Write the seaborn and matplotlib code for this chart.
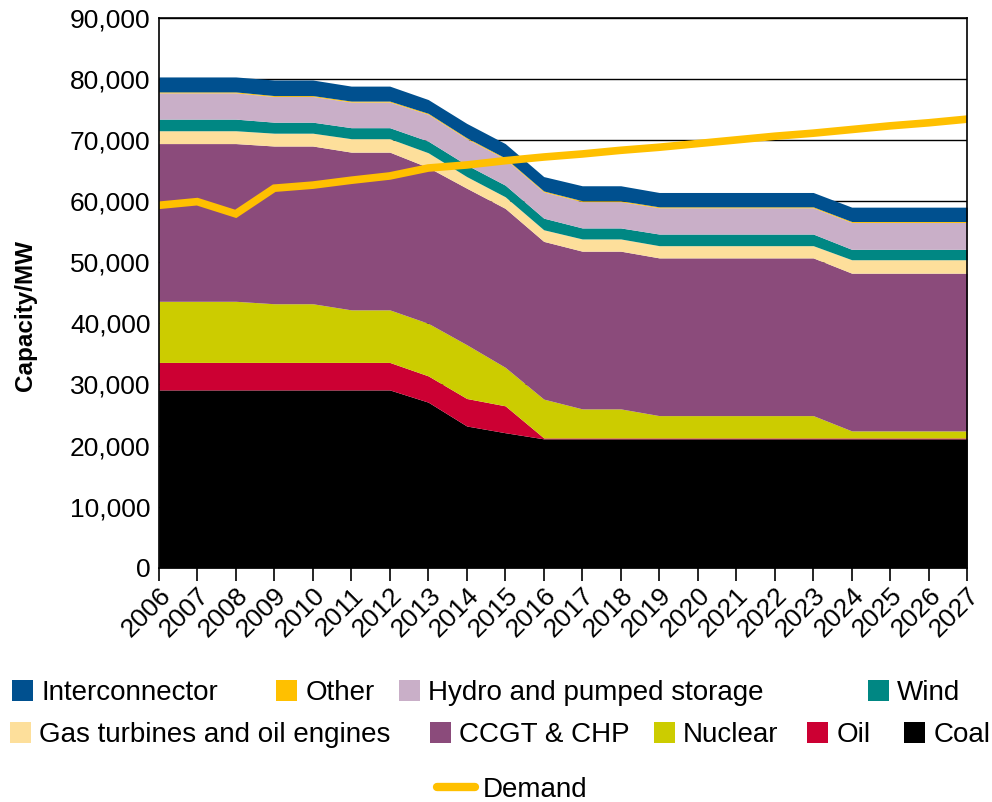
import matplotlib
matplotlib.use("Agg")
import matplotlib.pyplot as plt
import matplotlib.ticker as mticker
from matplotlib.patches import Patch
from matplotlib.lines import Line2D
import numpy as np
import pandas as pd
import seaborn as sns

# Data (MW)
years = list(range(2006, 2028))

coal = [29100, 29100, 29100, 29100, 29100, 29100, 29100, 27100, 23200, 22100, 21100,
        21100, 21100, 21100, 21100, 21100, 21100, 21100, 21100, 21100, 21100, 21100]
oil = [4500, 4500, 4500, 4500, 4500, 4500, 4500, 4300, 4500, 4400, 150,
       150, 150, 150, 150, 150, 150, 150, 150, 150, 150, 150]
nuclear = [10000, 10000, 10000, 9600, 9600, 8600, 8600, 8600, 8800, 6300, 6350,
           4750, 4750, 3650, 3650, 3650, 3650, 3650, 1150, 1150, 1150, 1150]
ccgt_chp = [25800, 25800, 25800, 25800, 25800, 25800, 25800, 25500, 25600, 26000, 25800,
            25800, 25800, 25800, 25800, 25800, 25800, 25800, 25800, 25800, 25800, 25800]
gas_turbines = [2100, 2100, 2100, 2100, 2100, 2200, 2200, 2400, 1900, 1900, 1900,
                2000, 2000, 2000, 2000, 2000, 2000, 2000, 2200, 2200, 2200, 2200]
wind = [1900, 1900, 1900, 1800, 1800, 1800, 1800, 1900, 1900, 1900, 1900,
        1800, 1800, 1900, 1900, 1900, 1900, 1900, 1700, 1700, 1700, 1700]
hydro = [4300, 4300, 4300, 4200, 4200, 4200, 4200, 4400, 4300, 4300, 4300,
         4300, 4300, 4300, 4300, 4300, 4300, 4300, 4400, 4400, 4400, 4400]
other = [150, 150, 150, 150, 150, 150, 150, 150, 150, 150, 150,
         150, 150, 150, 150, 150, 150, 150, 150, 150, 150, 150]
interconnector = [2450, 2450, 2450, 2550, 2550, 2450, 2450, 2250, 2350, 2350, 2350,
                  2450, 2450, 2350, 2350, 2350, 2350, 2350, 2350, 2350, 2350, 2350]
demand = [59300, 59900, 57900, 62100, 62600, 63400, 64100, 65400, 65900, 66600, 67200,
          67700, 68300, 68800, 69400, 70000, 70600, 71100, 71700, 72300, 72800, 73400]

series_labels = ["Coal", "Oil", "Nuclear", "CCGT & CHP", "Gas turbines and oil engines",
                 "Wind", "Hydro and pumped storage", "Other", "Interconnector"]
series_colors = ["#000000", "#CC0033", "#CCCC00", "#8B4B7B", "#FDDF9B",
                 "#008783", "#C9AFC8", "#FFC000", "#00508F"]
demand_color = "#FFC000"

sns.set_theme(style="white")
plt.rcParams["font.family"] = ["Liberation Sans", "DejaVu Sans"]
plt.rcParams.update({"text.color": "black", "axes.labelcolor": "black",
                     "xtick.color": "black", "ytick.color": "black"})

fig = plt.figure(figsize=(9.92, 8.02), dpi=100)
ax = fig.add_axes([0.160, 0.292, 0.815, 0.686])

ax.yaxis.grid(True, color="black", linewidth=1.0)
ax.set_axisbelow(True)

ax.stackplot(years, coal, oil, nuclear, ccgt_chp, gas_turbines, wind, hydro, other,
             interconnector, colors=series_colors, linewidth=0)

demand_df = pd.DataFrame({"year": years, "demand": demand})
sns.lineplot(data=demand_df, x="year", y="demand", ax=ax, color=demand_color,
             linewidth=5.5, solid_joinstyle="miter")

ax.set_xlim(2006, 2027)
ax.set_ylim(0, 90000)
ax.set_xticks(years)
ax.set_yticks(range(0, 90001, 10000))
ax.yaxis.set_major_formatter(mticker.FuncFormatter(lambda v, p: f"{int(v):,}"))
ax.set_xlabel("")
ax.set_ylabel("Capacity/MW", fontsize=17.5, fontweight="bold")
ax.yaxis.set_label_coords(-0.151, 0.458)

ax.tick_params(axis="y", labelsize=19, length=0, pad=6)
ax.tick_params(axis="x", labelsize=19, length=9, width=1.2, color="black",
               direction="out", bottom=True, pad=2)
for lbl in ax.get_xticklabels():
    lbl.set_rotation(45)
    lbl.set_ha("right")
    lbl.set_va("top")
    lbl.set_rotation_mode("anchor")

for s in ax.spines.values():
    s.set_color("black")
    s.set_linewidth(1.2)
    s.set_visible(True)

# Legend: each entry placed where it sits in the original
handles = {lab: Patch(facecolor=c, edgecolor="none") for lab, c in zip(series_labels, series_colors)}
legend_rows = [
    (693, [("Interconnector", 12), ("Other", 276), ("Hydro and pumped storage", 399), ("Wind", 868)]),
    (735, [("Gas turbines and oil engines", 10), ("CCGT & CHP", 430), ("Nuclear", 654),
           ("Oil", 807), ("Coal", 904)]),
]
for ypix, items in legend_rows:
    for lab, xpix in items:
        fig.legend([handles[lab]], [lab], loc="center left",
                   bbox_to_anchor=(xpix / 992, 1 - ypix / 802), frameon=False, fontsize=20,
                   handlelength=0.75, handleheight=0.8, handletextpad=0.3,
                   borderpad=0, borderaxespad=0)

fig.legend([Line2D([0], [0], color=demand_color, linewidth=6)], ["Demand"],
           loc="center left", bbox_to_anchor=(437 / 992, 1 - 790 / 802), frameon=False,
           fontsize=20, handlelength=1.35, handletextpad=0.3, borderpad=0, borderaxespad=0)

fig.savefig("out.png", dpi=100)
